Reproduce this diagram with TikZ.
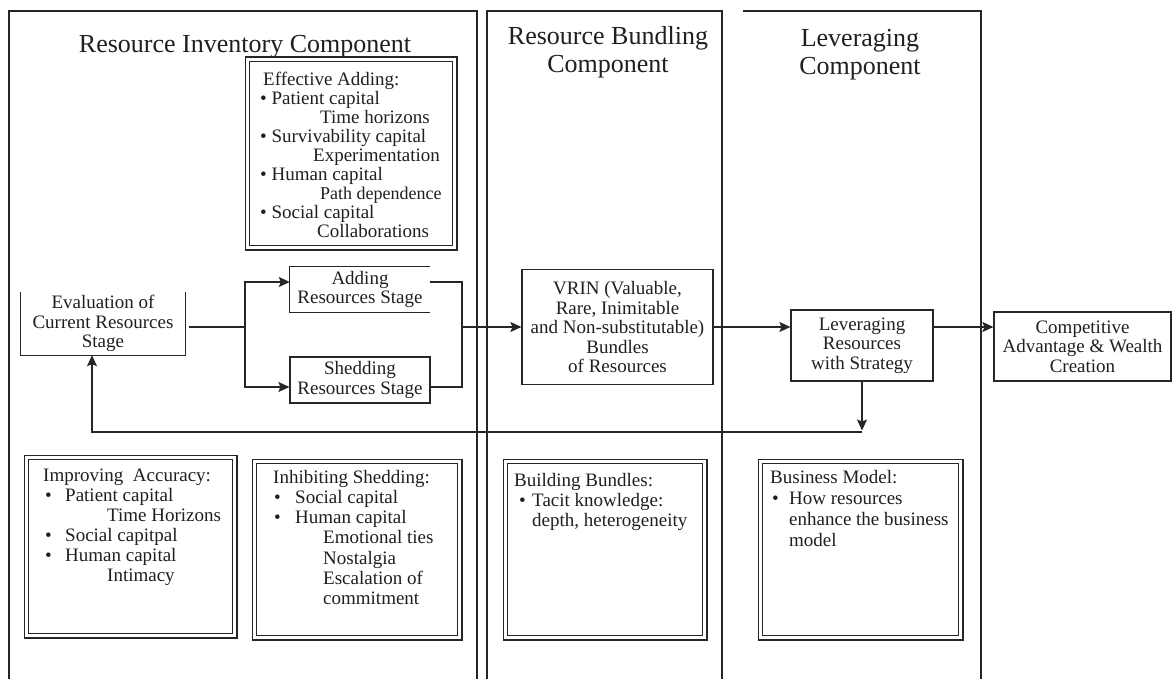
\documentclass[tikz,border=0pt]{standalone}
\usepackage{fontspec}
\setmainfont{Liberation Serif}
\usetikzlibrary{arrows.meta,calc}
% fixed-width bullet column
\newcommand\bul[1]{\makebox[#1][l]{\textbullet}}
\begin{document}
\begin{tikzpicture}[x=1pt,y=-1pt,
  every node/.style={text=black!88},
  ln/.style={draw=black!85, line width=1.2pt},
  arr/.style={ln, -{Stealth[length=11pt,width=10pt,inset=2pt]}},
  ttl/.style={inner sep=0pt, anchor=base, font=\fontsize{26}{28}\selectfont},
  stage/.style={inner sep=0pt, align=center, font=\fontsize{19}{19.5}\selectfont},
  dbl/.style={draw=black!85, line width=1.1pt, double=white, double distance=3.5pt, inner sep=0pt},
  lst/.style={inner sep=0pt, anchor=base west}]

\useasboundingbox (0,0) rectangle (1172,679);

% component panels
\draw[ln] (9,679) -- (9,11) -- (477,11) -- (477,679);
\draw[ln] (487,679) -- (487,11) -- (722,11) -- (722,679);
\draw[ln] (743,11) -- (981,11) -- (981,679);

% panel titles
\node[ttl] (t1) at (245,53) {Resource Inventory Component};
\node[ttl] (t2) at (608,45) {\parbox[t]{230pt}{\centering Resource Bundling\\Component}};
\node[ttl] (t3) at (860,47) {\parbox[t]{230pt}{\centering Leveraging\\Component}};

% stage boxes
\node[stage, minimum width=164pt, minimum height=63pt] (eval) at (103,323.5)
  {Evaluation of\\Current Resources\\Stage};
\draw[ln] (eval.north west) -- (eval.south west) -- (eval.south east) -- (eval.north east);

\node[stage, minimum width=140pt, minimum height=45pt] (add) at (360,289.5)
  {Adding\\Resources Stage};
\draw[ln] (add.north east) -- (add.north west) -- (add.south west) -- (add.south east);

\node[stage, ln, minimum width=140pt, minimum height=46pt] (shed) at (360,380)
  {Shedding\\Resources Stage};

\node[stage, ln, minimum width=191pt, minimum height=115pt] (vrin) at (617.5,327)
  {VRIN (Valuable,\\Rare, Inimitable\\and Non-substitutable)\\Bundles\\of Resources};

\node[stage, ln, minimum width=142pt, minimum height=71pt] (lev) at (862,345.5)
  {Leveraging\\Resources\\with Strategy};

\node[stage, ln, minimum width=177pt, minimum height=69pt] (comp) at (1082.5,346.5)
  {Competitive\\Advantage \& Wealth\\Creation};

% connectors
\coordinate (j1) at (245,327);
\coordinate (j2) at (462,327);
\coordinate (fb) at (862,432);

\draw[ln] ($(eval.east |- j1)+(4,0)$) -- (j1);
\draw[arr] (j1) |- ([yshift=7.5pt]add.west);
\draw[arr] (j1) |- ([yshift=-7pt]shed.west);
\draw[ln] ([yshift=7.5pt]add.east) -| (j2);
\draw[ln] ([yshift=-7pt]shed.east) -| (j2);
\draw[arr] (j2) -- (j2 -| vrin.west);
\draw[arr] (vrin.east) -- (vrin.east -| lev.west);
\draw[arr] (vrin.east -| lev.east) -- (vrin.east -| comp.west);
\draw[arr] (lev.south) -- ([yshift=1.5pt]fb);
\draw[arr] (fb) -| ([xshift=-11pt]eval.south);

% detail boxes
\node[dbl, minimum width=207.3pt, minimum height=188.3pt] (ea) at (351,153.5) {};
\node[lst, font=\fontsize{19}{19}\selectfont] (eaT) at (260,86) {\parbox[t]{195pt}{\raggedright
  \hspace*{3pt}Effective Adding:\\
  \textbullet\ Patient capital\\
  \hspace*{60pt}Time horizons\\
  \textbullet\ Survivability capital\\
  \hspace*{53pt}Experimentation\\
  \textbullet\ Human capital\\
  \hspace*{60pt}{\fontsize{18}{19}\selectfont Path dependence}\\
  \textbullet\ Social capital\\
  \hspace*{57pt}Collaborations}};

\node[dbl, minimum width=208.3pt, minimum height=178.3pt] (ia) at (130.5,546.5) {};
\node[lst, font=\fontsize{19}{20}\selectfont] (iaT) at (43,481) {\parbox[t]{190pt}{\raggedright
  Improving\ \ Accuracy:\\
  \hspace*{2pt}\bul{20pt}Patient capital\\
  \hspace*{64pt}Time Horizons\\
  \hspace*{2pt}\bul{20pt}Social capitpal\\
  \hspace*{2pt}\bul{20pt}Human capital\\
  \hspace*{64pt}Intimacy}};

\node[dbl, minimum width=205.3pt, minimum height=176.3pt] (is) at (357,549.5) {};
\node[lst, font=\fontsize{19}{20.3}\selectfont] (isT) at (273,483) {\parbox[t]{185pt}{\raggedright
  Inhibiting Shedding:\\
  \hspace*{1pt}\bul{21pt}Social capital\\
  \hspace*{1pt}\bul{21pt}Human capital\\
  \hspace*{50pt}Emotional ties\\
  \hspace*{50pt}Nostalgia\\
  \hspace*{50pt}Escalation of\\
  \hspace*{50pt}commitment}};

\node[dbl, minimum width=199.3pt, minimum height=176.3pt] (bb) at (605,549.5) {};
\node[lst, font=\fontsize{19}{20}\selectfont] (bbT) at (514,486) {\parbox[t]{185pt}{\raggedright
  Building Bundles:\\
  \hspace*{5pt}\bul{13pt}Tacit knowledge:\\
  \hspace*{18pt}depth, heterogeneity}};

\node[dbl, minimum width=200.3pt, minimum height=176.3pt] (bm) at (860.5,549.5) {};
\node[lst, font=\fontsize{19}{21}\selectfont] (bmT) at (770,483) {\parbox[t]{185pt}{\raggedright
  Business Model:\\
  \hspace*{2pt}\bul{17pt}How resources\\
  \hspace*{19pt}enhance the business\\
  \hspace*{19pt}model}};

\end{tikzpicture}
\end{document}
